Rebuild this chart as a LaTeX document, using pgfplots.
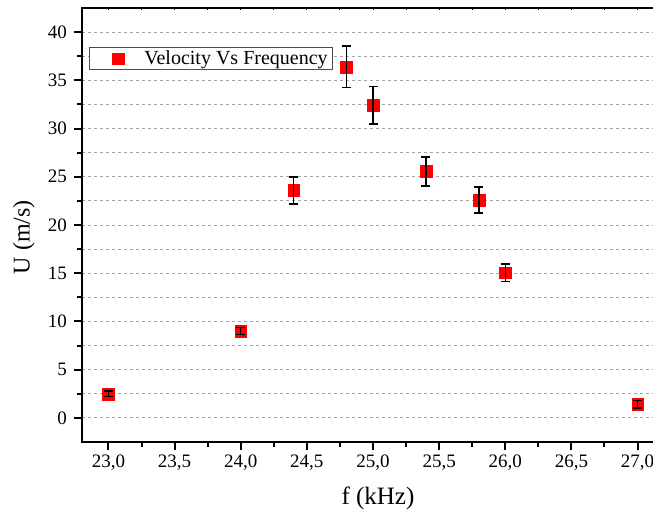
\documentclass[border=0pt]{standalone}
\usepackage{fontspec}
\setmainfont{Liberation Serif}
\usepackage{pgfplots}
\usepackage{pgfplotstable}
\pgfplotsset{compat=1.18}
\pgfplotstableread{
x y e
23.0 2.5 0.3
24.0 9.0 0.35
24.4 23.6 1.4
24.8 36.4 2.15
25.0 32.4 1.95
25.4 25.55 1.5
25.8 22.6 1.35
26.0 15.05 0.9
27.0 1.4 0.4
}\datatable
\begin{document}
\begin{tikzpicture}
\begin{axis}[
  set layers,
  scale only axis, width=582pt, height=434pt,
  xmin=22.8, xmax=27.2, ymin=-2.5, ymax=42.5,
  xtick={23,23.5,...,27}, minor x tick num=1,
  ytick={0,5,...,40}, minor y tick num=1,
  xtick pos=left, ytick pos=left,
  tick align=outside,
  major tick length=8pt, minor tick length=5pt,
  tick style={line width=2pt, black},
  axis line style={line width=2.5pt},
  ymajorgrids, yminorgrids,
  major grid style={black!35, dash pattern=on 3pt off 3pt, line width=1pt},
  minor grid style={black!35, dash pattern=on 3pt off 3pt, line width=1pt},
  /pgf/number format/assume math mode=true,
  tick label style={font=\fontsize{19}{19}\selectfont, inner sep=0pt},
  xticklabel style={/pgf/number format/.cd, fixed, fixed zerofill, precision=1, use comma, /tikz/.cd, yshift=-4.5pt},
  yticklabel style={xshift=-7pt},
  xlabel={f (kHz)},
  xlabel style={font=\fontsize{25}{25}\selectfont, at={(axis description cs:0.5086,-0.131)}, anchor=center},
  ylabel={U (m/s)},
  ylabel style={font=\fontsize{24}{24}\selectfont, at={(axis description cs:-0.0997,0.472)}, anchor=center},
  legend style={at={(axis description cs:0.012,0.910)}, anchor=north west,
    draw=black!70, line width=0.8pt, font=\fontsize{20}{20}\selectfont,
    inner xsep=5pt, inner ysep=3.5pt, nodes={inner sep=0pt}, column sep=20pt},
  legend image code/.code={\path[draw=none, fill=none] (0pt,-6pt) rectangle (30pt,6pt); \draw[#1] plot coordinates {(24pt,0pt)};},
]
\addplot[only marks, mark=square*, mark size=5.9pt, mark options={fill=red, draw=red, line width=0.3pt}]
  table[x=x, y=y]{\datatable};
\addlegendentry{Velocity Vs Frequency}
\addplot[forget plot, on layer=axis foreground, only marks, mark=square*, mark options={draw opacity=0, fill opacity=0},
  error bars/.cd, y dir=both, y explicit,
  error bar style={line width=1.5pt, black},
  error mark options={rotate=90, mark size=4.5pt, line width=1.5pt, black}]
  table[x=x, y=y, y error=e]{\datatable};
\end{axis}
\begin{axis}[
  scale only axis, width=582pt, height=434pt,
  xmin=22.8, xmax=27.2, ymin=0, ymax=1,
  axis x line*=top, axis y line=none,
  x axis line style={-, line width=2.5pt},
  xtick={23,23.25,...,27}, xticklabels={},
  tick align=inside, major tick length=2.5pt,
  tick style={line width=1pt, black},
]
\end{axis}
\pgfresetboundingbox
\useasboundingbox (-82pt,-75pt) rectangle (571pt,442pt);
\end{tikzpicture}
\end{document}
